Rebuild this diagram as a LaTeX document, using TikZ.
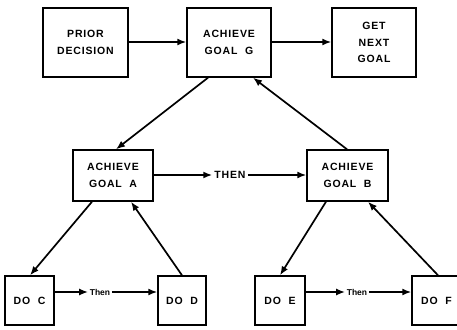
\documentclass[tikz,border=0pt]{standalone}
\usepackage{fontspec}
\setmainfont{Liberation Sans}
\usetikzlibrary{arrows.meta}
\begin{document}
\begin{tikzpicture}[x=1pt,y=-1pt,
  box/.style={draw,line width=1.4pt,inner sep=0pt,align=center,
    font=\fontsize{10.5}{16.5}\selectfont\bfseries\addfontfeature{LetterSpace=8}},
  conn/.style={line width=1.7pt,-{Latex[length=9pt,width=7pt]}},
  lbl/.style={inner sep=2pt,font=\fontsize{10.5}{12}\selectfont\bfseries\addfontfeature{LetterSpace=8}},
  slbl/.style={inner sep=1.5pt,font=\fontsize{8.5}{10}\selectfont\bfseries}]
\useasboundingbox (0,0) rectangle (457,329);
\node[box,minimum width=85pt,minimum height=69pt] (prior) at (85.5,42.5) {PRIOR\\DECISION};
\node[box,minimum width=84pt,minimum height=69pt] (g) at (229,42.5) {ACHIEVE\\GOAL\ \ G};
\node[box,minimum width=84pt,minimum height=69pt] (next) at (374,42.5) {GET\\NEXT\\GOAL};
\node[box,minimum width=80pt,minimum height=51pt] (a) at (113,175.5) {ACHIEVE\\GOAL\ \ A};
\node[box,minimum width=81pt,minimum height=51pt] (b) at (347.5,175.5) {ACHIEVE\\GOAL\ \ B};
\node[box,minimum width=49pt,minimum height=49pt] (c) at (29.5,300.5) {DO\ \ C};
\node[box,minimum width=48pt,minimum height=49pt] (d) at (182,300.5) {DO\ \ D};
\node[box,minimum width=50pt,minimum height=49pt] (e) at (280,300.5) {DO\ \ E};
\node[box,minimum width=49pt,minimum height=49pt] (f) at (436.5,300.5) {DO\ \ F};
\node[lbl] (then1) at (230,175) {THEN};
\node[slbl] (then2) at (100,292) {Then};
\node[slbl] (then3) at (357,292) {Then};
\draw[conn] (prior.east |- 0,42) -- (g.west |- 0,42);
\draw[conn] (g.east |- 0,42) -- (next.west |- 0,42);
\draw[conn] (g.south -| 208,0) -- (a.north -| 116,0);
\draw[conn] (b.north -| 347,0) -- (g.south -| 253,0);
\draw[conn] (a.south -| 92,0) -- (c.north -| 30,0);
\draw[conn] (d.north -| 182,0) -- (a.south -| 131,0);
\draw[conn] (b.south -| 326,0) -- (e.north -| 280,0);
\draw[conn] (f.north -| 438,0) -- (b.south -| 368,0);
\draw[conn] (a.east |- 0,175) -- (then1.west);
\draw[conn] (then1.east) -- (b.west |- 0,175);
\draw[conn] (c.east |- 0,292) -- (then2.west);
\draw[conn] (then2.east) -- (d.west |- 0,292);
\draw[conn] (e.east |- 0,292) -- (then3.west);
\draw[conn] (then3.east) -- (f.west |- 0,292);
\end{tikzpicture}
\end{document}
